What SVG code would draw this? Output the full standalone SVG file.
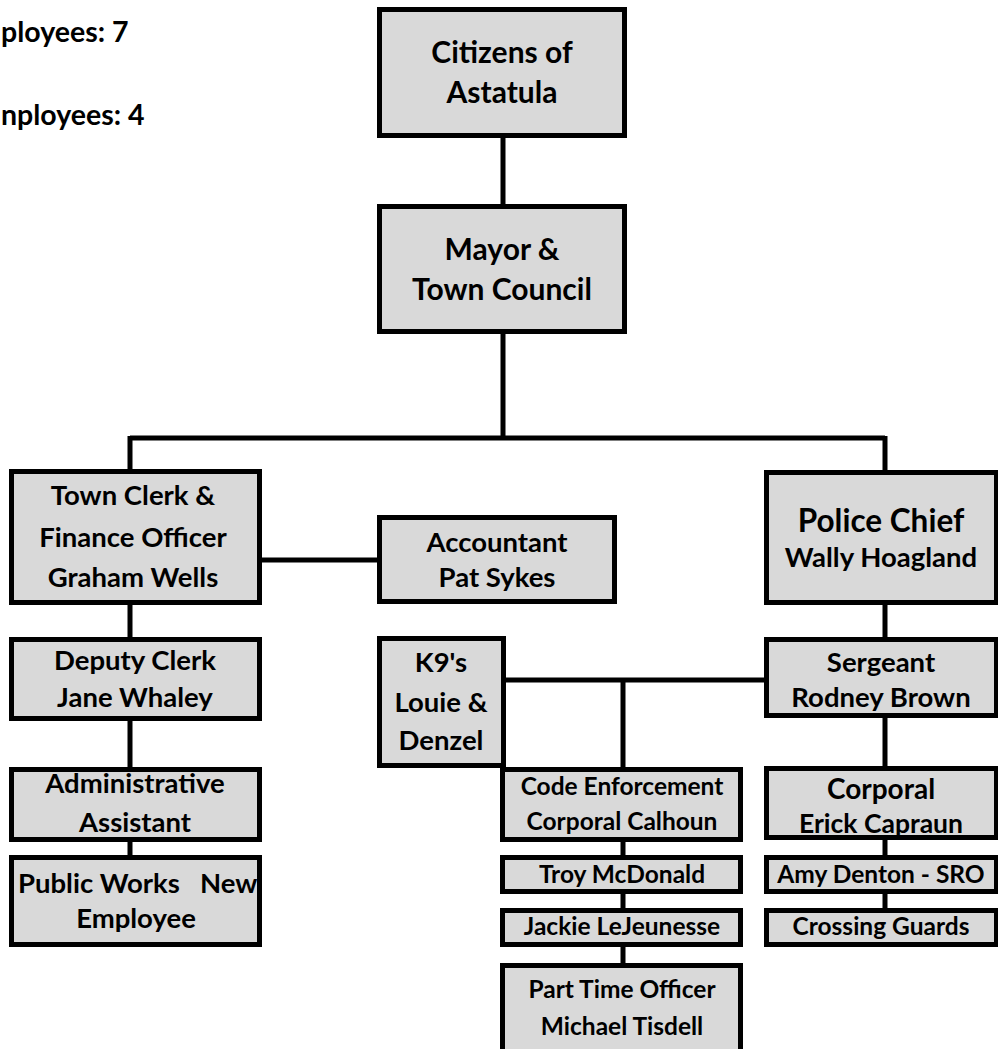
<svg xmlns="http://www.w3.org/2000/svg" width="998" height="1049" viewBox="0 0 998 1049">
<style>
.box{fill:#d9d9d9;stroke:#000;stroke-width:5}
.ln{stroke:#000;stroke-width:5;fill:none}
text{font-family:Lato,"Liberation Sans",sans-serif;font-weight:700;fill:#000;text-anchor:middle}
.l{font-size:30px}
.xl{font-size:31.5px}
.m{font-size:27.5px}
.s{font-size:24.5px}
.c{font-size:28px}
.e{font-size:26.5px}
.n{font-size:28.5px;text-anchor:start}
</style>
<rect width="998" height="1049" fill="#fff"/>
<g id="notes">
<text class="n" x="1" y="42">ployees: 7</text>
<text class="n" x="1" y="125">nployees: 4</text>
</g>
<g id="connectors">
<path class="ln" d="M503 138V204M503 334V438M130 438H885M130 436V469M885 436V470"/>
<path class="ln" d="M262 560H377M130 605V637M130 721V767M130 842V855"/>
<path class="ln" d="M885 605V637M506 680H764M623 680V767M623 842V855M623 894V908M623 947V963"/>
<path class="ln" d="M885 718V766M885 840V855M885 894V908"/>
</g>
<g id="citizens"><rect class="box" x="379.5" y="9.5" width="245" height="126"/>
<text class="l" x="502" y="63">Citizens of</text><text class="l" x="502" y="103">Astatula</text></g>
<g id="mayor"><rect class="box" x="379.5" y="206.5" width="245" height="125"/>
<text class="l" x="502" y="260">Mayor &amp;</text><text class="l" x="502" y="300">Town Council</text></g>
<g id="town-clerk"><rect class="box" x="11.5" y="471.5" width="248" height="131"/>
<text class="m" x="133" y="505">Town Clerk &amp;</text><text class="m" x="133" y="547">Finance Officer</text><text class="m" x="133" y="587">Graham Wells</text></g>
<g id="accountant"><rect class="box" x="379.5" y="517.5" width="235" height="84"/>
<text class="m" x="497" y="552">Accountant</text><text class="m" x="497" y="587">Pat Sykes</text></g>
<g id="k9"><rect class="box" x="379.5" y="638.5" width="124" height="127"/>
<text class="m" x="441" y="672">K9's</text><text class="m" x="441" y="712">Louie &amp;</text><text class="m" x="441" y="750">Denzel</text></g>
<g id="police-chief"><rect class="box" x="766.5" y="472.5" width="230" height="130"/>
<text class="xl" x="881" y="532">Police Chief</text><text class="m" x="881" y="567">Wally Hoagland</text></g>
<g id="sergeant"><rect class="box" x="766.5" y="639.5" width="230" height="76"/>
<text class="m" x="881" y="672">Sergeant</text><text class="m" x="881" y="707">Rodney Brown</text></g>
<g id="deputy-clerk"><rect class="box" x="11.5" y="639.5" width="248" height="79"/>
<text class="m" x="135" y="670">Deputy Clerk</text><text class="m" x="135" y="707">Jane Whaley</text></g>
<g id="admin-assistant"><rect class="box" x="11.5" y="769.5" width="248" height="70"/>
<text class="m" x="135" y="793">Administrative</text><text class="m" x="135" y="832">Assistant</text></g>
<g id="public-works"><rect class="box" x="11.5" y="857.5" width="248" height="87"/>
<text class="m" style="text-anchor:start"><tspan x="18" y="893">Public Works </tspan><tspan x="200" y="893">New</tspan></text><text class="m" x="136" y="928">Employee</text></g>
<g id="code-enforcement"><rect class="box" x="502.5" y="769.5" width="238" height="70"/>
<text class="s" x="622" y="795">Code Enforcement</text><text class="s" x="622" y="830">Corporal Calhoun</text></g>
<g id="troy"><rect class="box" x="502.5" y="857.5" width="238" height="34"/>
<text class="s" x="622" y="883">Troy McDonald</text></g>
<g id="jackie"><rect class="box" x="502.5" y="910.5" width="238" height="34"/>
<text class="s" x="622" y="935">Jackie LeJeunesse</text></g>
<g id="part-time"><rect class="box" x="502.5" y="965.5" width="238" height="100"/>
<text class="s" x="622" y="998">Part Time Officer</text><text class="s" x="622" y="1035">Michael Tisdell</text></g>
<g id="corporal"><rect class="box" x="766.5" y="768.5" width="230" height="69"/>
<text class="c" x="881" y="799">Corporal</text><text class="e" x="881" y="833">Erick Capraun</text></g>
<g id="amy"><rect class="box" x="766.5" y="857.5" width="230" height="34"/>
<text class="s" x="881" y="883">Amy Denton - SRO</text></g>
<g id="crossing"><rect class="box" x="766.5" y="910.5" width="230" height="34"/>
<text class="s" x="881" y="935">Crossing Guards</text></g>
</svg>
